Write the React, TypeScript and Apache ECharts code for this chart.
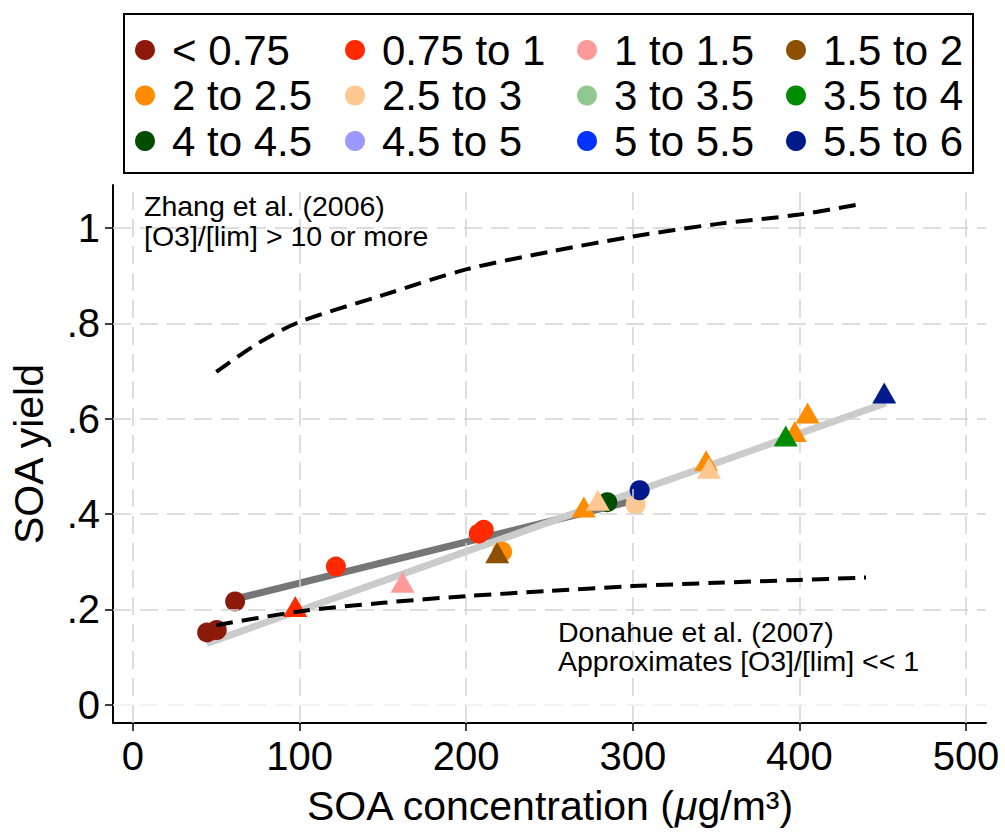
import React, { useEffect, useRef } from "react";
import * as echarts from "echarts";

const FONT = '"Liberation Sans", Arial, Helvetica, sans-serif';

const CATEGORIES = [
  "< 0.75", "0.75 to 1", "1 to 1.5", "1.5 to 2",
  "2 to 2.5", "2.5 to 3", "3 to 3.5", "3.5 to 4",
  "4 to 4.5", "4.5 to 5", "5 to 5.5", "5.5 to 6",
];
const COLORS = [
  "#8C1A0A", "#FF2A00", "#FF9A9A", "#8C5000",
  "#FF8C00", "#FFC891", "#8FC98F", "#008C00",
  "#004D00", "#9999FF", "#0033FF", "#001A8C",
];

// circle markers per category: [SOA concentration, SOA yield]
const CIRCLES: number[][][] = [
  [[44.5, 0.152], [50.3, 0.157], [61.3, 0.217]],
  [[121.8, 0.29], [207.5, 0.359], [210.5, 0.367]],
  [],
  [],
  [[221.6, 0.321]],
  [[301.7, 0.42]],
  [],
  [],
  [[284.7, 0.425]],
  [],
  [],
  [[304.1, 0.45]],
];
// triangle markers per category
const TRIANGLES: number[][][] = [
  [],
  [[97.4, 0.206]],
  [[161.8, 0.257]],
  [[218.6, 0.319]],
  [[270.6, 0.415], [344, 0.512], [397.2, 0.573], [404.9, 0.612]],
  [[279, 0.429], [345.7, 0.496]],
  [],
  [[391.8, 0.564]],
  [],
  [],
  [],
  [[450.9, 0.654]],
];

// fit lines
const FIT_DARK = [[61.3, 0.222], [296.7, 0.425]];
const FIT_LIGHT = [[44.3, 0.129], [451.9, 0.633]];

// reference curves
const ZHANG_X = [50, 75, 100, 150, 200, 250, 300, 350, 400, 435];
const ZHANG_Y = [0.698, 0.758, 0.803, 0.859, 0.913, 0.95, 0.982, 1.008, 1.028, 1.049];
const DONAHUE_X = [50, 100, 150, 200, 250, 300, 350, 400, 440];
const DONAHUE_Y = [0.167, 0.196, 0.214, 0.228, 0.239, 0.249, 0.256, 0.262, 0.267];

// ticks
const X_TICKS = [0, 100, 200, 300, 400, 500];
const Y_TICKS = [0, 0.2, 0.4, 0.6, 0.8, 1];

export default function App() {
  const ref = useRef<HTMLDivElement>(null);

  useEffect(() => {
    const chart = echarts.init(ref.current!, null, { renderer: "svg" });

    const gridLineStyle = { type: [18, 9], color: "#d2d2d2", width: 1.5 };
    const series: any[] = [];

    series.push({
      type: "line",
      name: "__grid",
      data: [],
      z: 1,
      silent: true,
      markLine: {
        silent: true,
        animation: false,
        symbol: ["none", "none"],
        label: { show: false },
        lineStyle: gridLineStyle,
        emphasis: { disabled: true },
        data: [
          ...X_TICKS.map((v) => ({ xAxis: v })),
          ...Y_TICKS.map((v) =>
            v === 0
              ? { yAxis: v, lineStyle: { ...gridLineStyle, color: "#efefef" } }
              : { yAxis: v }
          ),
        ],
      },
    });

    series.push({
      type: "line",
      name: "__fitDark",
      data: FIT_DARK,
      symbol: "none",
      z: 3,
      silent: true,
      lineStyle: { color: "#767676", width: 7, cap: "butt" },
    });
    series.push({
      type: "line",
      name: "__fitLight",
      data: FIT_LIGHT,
      symbol: "none",
      z: 3,
      silent: true,
      lineStyle: { color: "#cbcbcb", width: 7, cap: "butt" },
    });

    CATEGORIES.forEach((cat, i) => {
      series.push({
        type: "scatter",
        name: cat,
        data: CIRCLES[i],
        symbol: "circle",
        symbolSize: 20,
        z: 4,
        itemStyle: { color: COLORS[i], opacity: 1 },
        emphasis: { disabled: true },
      });
    });
    CATEGORIES.forEach((cat, i) => {
      series.push({
        type: "scatter",
        name: cat,
        data: TRIANGLES[i],
        symbol: "triangle",
        symbolSize: [24, 21],
        z: 5,
        itemStyle: { color: COLORS[i], opacity: 1 },
        emphasis: { disabled: true },
      });
    });

    series.push({
      type: "line",
      name: "__zhang",
      data: ZHANG_X.map((x, i) => [x, ZHANG_Y[i]]),
      symbol: "none",
      smooth: 0.3,
      z: 6,
      silent: true,
      lineStyle: { color: "#000", width: 4, type: [17, 9], cap: "butt" },
    });
    series.push({
      type: "line",
      name: "__donahue",
      data: DONAHUE_X.map((x, i) => [x, DONAHUE_Y[i]]),
      symbol: "none",
      smooth: 0.3,
      z: 6,
      silent: true,
      lineStyle: { color: "#000", width: 4, type: [17, 9], cap: "butt" },
    });

    // marker centres of the four legend columns
    const legendCentres = [145, 355, 587, 796];
    const legends = legendCentres.map((cx, c) => ({
      orient: "vertical",
      left: cx - 10,
      top: 29,
      padding: 0,
      itemWidth: 20,
      itemHeight: 20,
      itemGap: 3.5,
      icon: "circle",
      selectedMode: false,
      textStyle: { fontSize: 42, color: "#000", fontFamily: FONT, padding: [0, 0, 0, 12] },
      data: [CATEGORIES[c], CATEGORIES[c + 4], CATEGORIES[c + 8]],
    }));

    const option: any = {
      animation: false,
      backgroundColor: "#fff",
      textStyle: { fontFamily: FONT },
      grid: { left: 113, right: 19, top: 185, bottom: 112, containLabel: false },
      legend: legends,
      xAxis: {
        type: "value",
        min: -12,
        max: 512,
        name: "SOA concentration ({it|μ}g/m³)",
        nameLocation: "middle",
        nameGap: 62,
        nameTextStyle: {
          fontSize: 41,
          color: "#000",
          fontFamily: FONT,
          rich: { it: { fontSize: 41, fontStyle: "italic", color: "#000", fontFamily: FONT } },
        },
        axisLine: { show: true, onZero: false, lineStyle: { color: "#000", width: 2 } },
        axisTick: {
          show: true,
          customValues: X_TICKS,
          length: 8,
          lineStyle: { color: "#000", width: 1.5 },
        },
        axisLabel: {
          customValues: X_TICKS,
          fontSize: 40,
          color: "#000",
          fontFamily: FONT,
          margin: 13,
        },
        splitLine: { show: false },
      },
      yAxis: {
        type: "value",
        min: -0.038,
        max: 1.09,
        name: "SOA yield",
        nameLocation: "middle",
        nameGap: 64,
        nameTextStyle: { fontSize: 41, color: "#000", fontFamily: FONT },
        axisLine: { show: true, onZero: false, lineStyle: { color: "#000", width: 2 } },
        axisTick: {
          show: true,
          customValues: Y_TICKS,
          length: 8,
          lineStyle: { color: "#000", width: 1.5 },
        },
        axisLabel: {
          customValues: Y_TICKS,
          fontSize: 40,
          color: "#000",
          fontFamily: FONT,
          margin: 13,
          formatter: (v: number) =>
            v === 0 ? "0" : v === 1 ? "1" : v.toFixed(1).replace(/^0/, ""),
        },
        splitLine: { show: false },
      },
      graphic: [
        {
          type: "rect",
          z: 10,
          silent: true,
          shape: { x: 124, y: 14, width: 849, height: 159 },
          style: { fill: "none", stroke: "#000", lineWidth: 2 },
        },
        {
          type: "rect",
          z: 2,
          silent: true,
          shape: { x: 118, y: 187, width: 340, height: 82 },
          style: { fill: "#fff" },
        },
        {
          type: "rect",
          z: 2,
          silent: true,
          shape: { x: 545, y: 612, width: 390, height: 78 },
          style: { fill: "#fff" },
        },
        {
          type: "text",
          z: 7,
          silent: true,
          x: 144,
          y: 206,
          style: { text: "Zhang et al. (2006)", fontSize: 28.5, fontFamily: FONT, fill: "#000", align: "left", verticalAlign: "middle" },
        },
        {
          type: "text",
          z: 7,
          silent: true,
          x: 144,
          y: 236,
          style: { text: "[O3]/[lim] > 10 or more", fontSize: 28.5, fontFamily: FONT, fill: "#000", align: "left", verticalAlign: "middle" },
        },
        {
          type: "text",
          z: 7,
          silent: true,
          x: 558,
          y: 632,
          style: { text: "Donahue et al. (2007)", fontSize: 28.5, fontFamily: FONT, fill: "#000", align: "left", verticalAlign: "middle" },
        },
        {
          type: "text",
          z: 7,
          silent: true,
          x: 558,
          y: 661,
          style: { text: "Approximates [O3]/[lim] << 1", fontSize: 28.5, fontFamily: FONT, fill: "#000", align: "left", verticalAlign: "middle" },
        },
      ],
      series,
    };

    chart.setOption(option);
    return () => chart.dispose();
  }, []);

  return (
    <div
      ref={ref}
      style={{ position: "fixed", left: 0, top: 0, width: 1005, height: 835, background: "#fff" }}
    />
  );
}
